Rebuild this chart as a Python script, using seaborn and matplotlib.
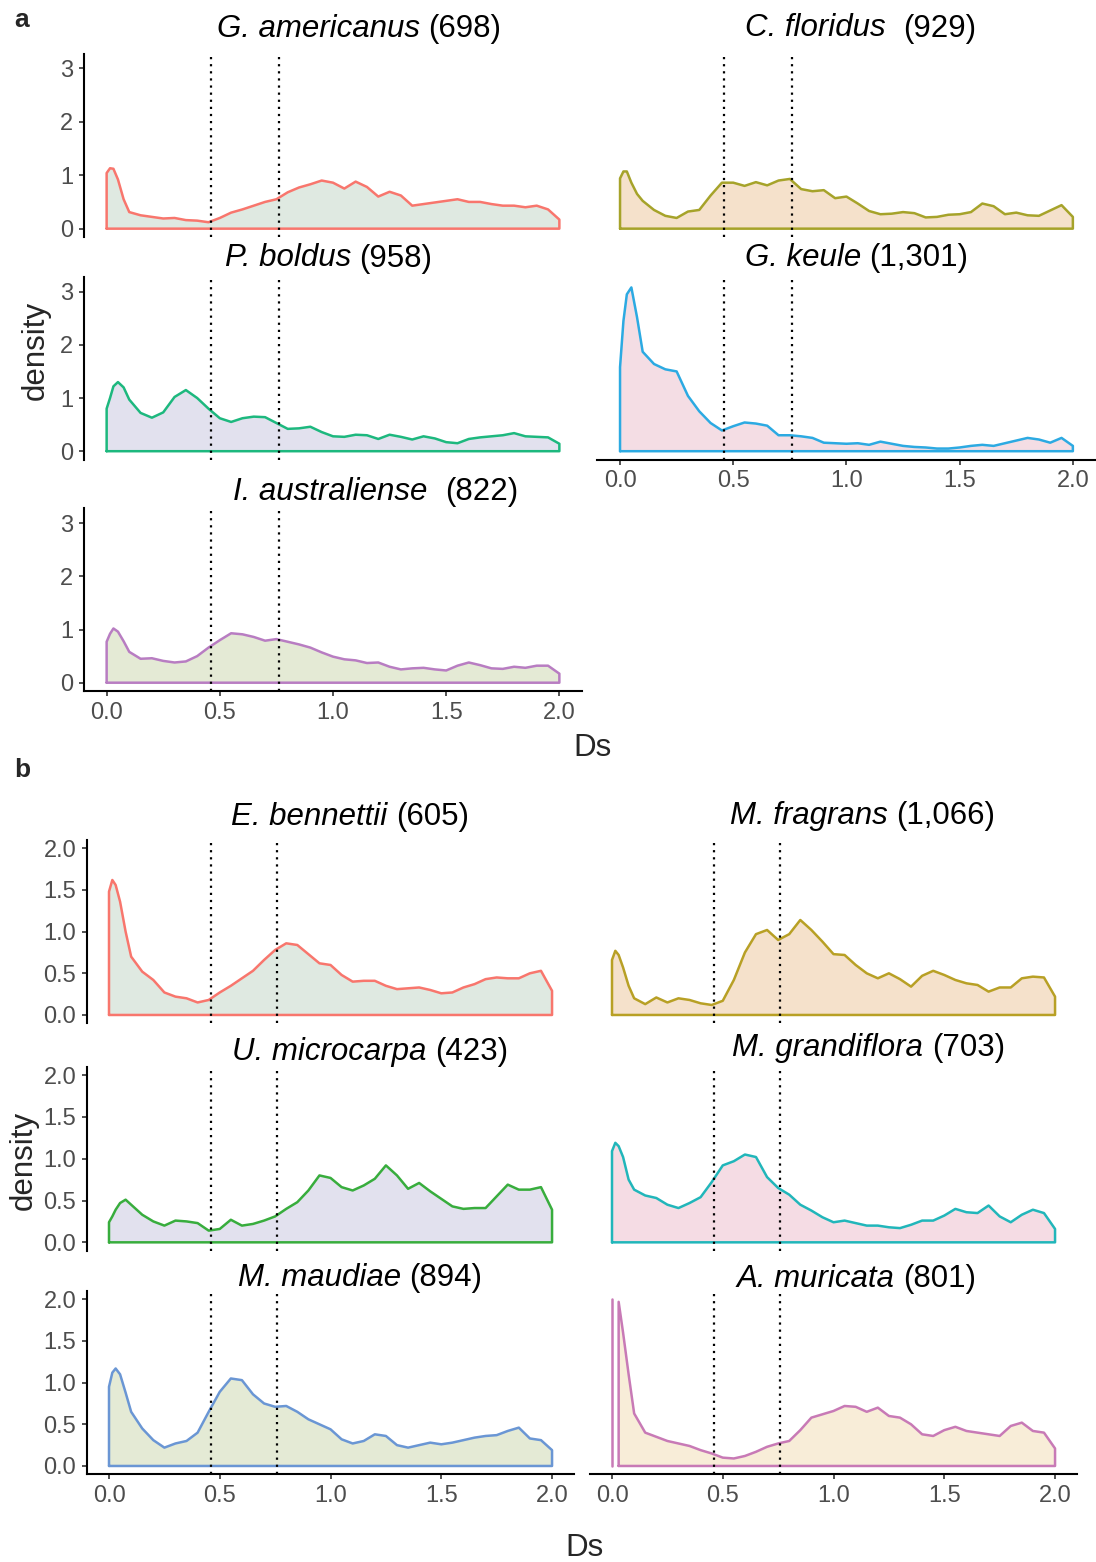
import numpy as np
import pandas as pd
import matplotlib
matplotlib.use("Agg")
import matplotlib.pyplot as plt
import seaborn as sns

# Ds positions at which every density curve is tabulated
DS_GRID = [0.0, 0.015, 0.03, 0.05, 0.075, 0.1, 0.15, 0.2, 0.25, 0.3, 0.35, 0.4,
           0.45, 0.5, 0.55, 0.6, 0.65, 0.7, 0.75, 0.8, 0.85, 0.9, 0.95, 1.0,
           1.05, 1.1, 1.15, 1.2, 1.25, 1.3, 1.35, 1.4, 1.45, 1.5, 1.55, 1.6,
           1.65, 1.7, 1.75, 1.8, 1.85, 1.9, 1.95, 2.0]

# ---- panel a: Ds densities ----
G_AMERICANUS = [1.04, 1.13, 1.12, 0.92, 0.55, 0.31, 0.25, 0.22, 0.19, 0.2, 0.16, 0.15,
                0.12, 0.2, 0.3, 0.36, 0.43, 0.5, 0.55, 0.68, 0.77, 0.83, 0.9, 0.86,
                0.75, 0.88, 0.78, 0.6, 0.69, 0.62, 0.43, 0.46, 0.49, 0.52, 0.55, 0.5,
                0.5, 0.46, 0.43, 0.43, 0.4, 0.43, 0.36, 0.17]
C_FLORIDUS = [0.94, 1.07, 1.07, 0.86, 0.65, 0.52, 0.35, 0.24, 0.2, 0.32, 0.35, 0.62,
              0.86, 0.86, 0.8, 0.87, 0.81, 0.9, 0.93, 0.74, 0.7, 0.72, 0.57, 0.6,
              0.47, 0.33, 0.27, 0.28, 0.31, 0.29, 0.21, 0.22, 0.26, 0.27, 0.31, 0.47,
              0.42, 0.27, 0.3, 0.25, 0.24, 0.34, 0.44, 0.22]
P_BOLDUS = [0.8, 1.0, 1.22, 1.3, 1.2, 0.97, 0.72, 0.63, 0.73, 1.02, 1.15, 1.0,
            0.8, 0.62, 0.55, 0.62, 0.65, 0.64, 0.53, 0.42, 0.43, 0.46, 0.36, 0.28,
            0.27, 0.31, 0.3, 0.23, 0.31, 0.27, 0.22, 0.28, 0.24, 0.17, 0.15, 0.23,
            0.26, 0.28, 0.3, 0.34, 0.28, 0.27, 0.26, 0.14]
G_KEULE = [1.58, 2.45, 2.95, 3.08, 2.52, 1.87, 1.64, 1.54, 1.5, 1.04, 0.75, 0.53,
           0.39, 0.47, 0.54, 0.52, 0.48, 0.3, 0.3, 0.28, 0.25, 0.16, 0.15, 0.14,
           0.15, 0.12, 0.18, 0.14, 0.1, 0.08, 0.07, 0.05, 0.05, 0.07, 0.1, 0.12,
           0.1, 0.15, 0.2, 0.25, 0.22, 0.16, 0.25, 0.1]
I_AUSTRALIENSE = [0.77, 0.92, 1.02, 0.96, 0.78, 0.58, 0.45, 0.46, 0.41, 0.38, 0.4, 0.5,
                  0.66, 0.8, 0.93, 0.91, 0.86, 0.79, 0.82, 0.77, 0.72, 0.66, 0.57, 0.49,
                  0.44, 0.42, 0.37, 0.38, 0.3, 0.25, 0.27, 0.28, 0.25, 0.23, 0.32, 0.38,
                  0.33, 0.27, 0.26, 0.3, 0.28, 0.32, 0.32, 0.17]

# ---- panel b: Ds densities ----
E_BENNETTII = [1.48, 1.62, 1.56, 1.36, 1.0, 0.7, 0.52, 0.42, 0.27, 0.22, 0.2, 0.15,
               0.18, 0.27, 0.35, 0.44, 0.53, 0.66, 0.78, 0.86, 0.84, 0.73, 0.62, 0.6,
               0.48, 0.4, 0.41, 0.41, 0.35, 0.31, 0.32, 0.33, 0.3, 0.26, 0.27, 0.33,
               0.37, 0.43, 0.45, 0.44, 0.44, 0.5, 0.53, 0.29]
M_FRAGRANS = [0.66, 0.77, 0.72, 0.57, 0.35, 0.2, 0.13, 0.21, 0.15, 0.2, 0.18, 0.14,
              0.12, 0.17, 0.42, 0.75, 0.97, 1.02, 0.9, 0.97, 1.14, 1.02, 0.88, 0.73,
              0.72, 0.6, 0.5, 0.44, 0.5, 0.43, 0.34, 0.47, 0.53, 0.48, 0.42, 0.38,
              0.36, 0.28, 0.33, 0.33, 0.44, 0.46, 0.45, 0.22]
U_MICROCARPA = [0.24, 0.31, 0.39, 0.47, 0.51, 0.45, 0.33, 0.25, 0.2, 0.26, 0.25, 0.23,
                0.14, 0.16, 0.27, 0.2, 0.22, 0.26, 0.31, 0.4, 0.48, 0.62, 0.8, 0.77,
                0.66, 0.62, 0.68, 0.76, 0.92, 0.8, 0.64, 0.71, 0.61, 0.52, 0.43, 0.4,
                0.41, 0.41, 0.55, 0.69, 0.63, 0.63, 0.66, 0.39]
M_GRANDIFLORA = [1.09, 1.19, 1.15, 1.02, 0.75, 0.63, 0.56, 0.53, 0.45, 0.41, 0.47, 0.54,
                 0.72, 0.92, 0.97, 1.05, 1.02, 0.78, 0.65, 0.57, 0.45, 0.38, 0.3, 0.24,
                 0.26, 0.23, 0.2, 0.2, 0.18, 0.17, 0.21, 0.26, 0.26, 0.32, 0.4, 0.36,
                 0.35, 0.44, 0.31, 0.24, 0.33, 0.39, 0.35, 0.16]
M_MAUDIAE = [0.95, 1.12, 1.17, 1.1, 0.88, 0.65, 0.45, 0.31, 0.22, 0.27, 0.3, 0.4,
             0.65, 0.89, 1.05, 1.03, 0.86, 0.75, 0.71, 0.72, 0.65, 0.56, 0.5, 0.44,
             0.32, 0.27, 0.3, 0.38, 0.36, 0.25, 0.22, 0.25, 0.28, 0.26, 0.28, 0.31,
             0.34, 0.36, 0.37, 0.42, 0.46, 0.33, 0.31, 0.19]
A_MURICATA = [2.25, 2.6, 1.97, 1.6, 1.1, 0.63, 0.4, 0.35, 0.3, 0.27, 0.24, 0.19,
              0.15, 0.1, 0.09, 0.12, 0.17, 0.23, 0.27, 0.3, 0.43, 0.58, 0.62, 0.66,
              0.72, 0.71, 0.65, 0.7, 0.6, 0.58, 0.5, 0.38, 0.36, 0.43, 0.47, 0.42,
              0.4, 0.38, 0.36, 0.48, 0.52, 0.42, 0.4, 0.21]

# species names, gene-pair counts and the number of spaces printed between them
SPECIES_A = ["G. americanus", "C. floridus", "P. boldus", "G. keule", "I. australiense"]
COUNTS_A = ["698", "929", "958", "1,301", "822"]
GAPS_A = [1, 2, 1, 1, 2]
SPECIES_B = ["E. bennettii", "M. fragrans", "U. microcarpa", "M. grandiflora",
             "M. maudiae", "A. muricata"]
COUNTS_B = ["605", "1,066", "423", "703", "894", "801"]
GAPS_B = [1, 1, 1, 1, 1, 1]

# dotted reference lines on the Ds axis
DS_MARKS = [0.46, 0.76]

X_TICKS = [0.0, 0.5, 1.0, 1.5, 2.0]
Y_TICKS_A = [0, 1, 2, 3]
Y_TICKS_B = [0.0, 0.5, 1.0, 1.5, 2.0]

LINE_A = ["#F8766D", "#A6A32A", "#1DB87E", "#2CAAE2", "#B87DC2"]
FILL_A = ["#DFE9E1", "#F5E1CB", "#E2E1EE", "#F4DDE4", "#E4EAD5"]
LINE_B = ["#F8766D", "#B8A025", "#38AD3D", "#21B6BA", "#6A96D4", "#C87AB6"]
FILL_B = ["#DFE9E1", "#F5E1CB", "#E2E1EE", "#F5DCE4", "#E4EAD5", "#F8EDD8"]

sns.set_style("ticks")
plt.rcParams["font.family"] = ["Liberation Sans", "DejaVu Sans"]

W, H = 1096, 1562
fig = plt.figure(figsize=(W / 100, H / 100), dpi=100)
fig.patch.set_facecolor("white")
renderer = fig.canvas.get_renderer()

TICK_GREY = "#4D4D4D"
TITLE_SIZE = 22.5
TICK_SIZE = 17
CURVE_LW = 1.8


def px_axes(left, top, right, bottom):
    return fig.add_axes([left / W, 1 - bottom / H, (right - left) / W, (bottom - top) / H])


def fig_text(x, y, s, **kw):
    return fig.text(x / W, 1 - y / H, s, **kw)


def species_title(cx, y, name, n_spaces, count):
    """Italic species name followed by an upright count, centred on cx."""
    t1 = fig_text(0, y, name, style="italic", fontsize=TITLE_SIZE,
                  ha="left", va="baseline", color="black")
    t2 = fig_text(0, y, "(" + count + ")", fontsize=TITLE_SIZE,
                  ha="left", va="baseline", color="black")
    w1 = t1.get_window_extent(renderer).width
    w2 = t2.get_window_extent(renderer).width
    space = 0.278 * TITLE_SIZE * 100 / 72 * n_spaces
    x0 = cx - (w1 + space + w2) / 2
    t1.set_x(x0 / W)
    t2.set_x((x0 + w1 + space) / W)


def draw_density(ax, dens, line_color, fill_color, cap=None):
    x = np.asarray(DS_GRID, float)
    y = np.asarray(dens, float)
    keep = np.ones(len(y), bool) if cap is None else (y <= cap)
    idx = np.flatnonzero(keep)
    runs = np.split(idx, np.flatnonzero(np.diff(idx) > 1) + 1)
    if cap is not None and not keep[0]:
        # values beyond the scale limit are dropped; only the left edge survives
        edge = pd.DataFrame({"Ds": [x[0], x[0]], "density": [0.0, cap]})
        sns.lineplot(data=edge, x="Ds", y="density", sort=False, estimator=None,
                     color=line_color, lw=CURVE_LW, ax=ax, zorder=3)
    for r in runs:
        xs, ys = x[r], y[r]
        ax.fill_between(xs, 0, ys, color=fill_color, lw=0, zorder=1)
        outline = pd.DataFrame({
            "Ds": np.r_[xs[0], xs, xs[-1], xs[0]],
            "density": np.r_[0.0, ys, 0.0, 0.0],
        })
        sns.lineplot(data=outline, x="Ds", y="density", sort=False, estimator=None,
                     color=line_color, lw=CURVE_LW, ax=ax, zorder=3,
                     solid_joinstyle="round", solid_capstyle="round")
    for m in DS_MARKS:
        ax.axvline(m, color="black", lw=1.6, ls=(0, (1, 2.2)), zorder=4)


def style_axes(ax, ylim, yticks, show_y, show_x):
    ax.set_xlim(-0.1, 2.1)
    ax.set_ylim(*ylim)
    ax.set_xticks(X_TICKS)
    ax.set_yticks(yticks)
    ax.set(xlabel="", ylabel="")
    ax.set_facecolor("none")
    for side in ("top", "right"):
        ax.spines[side].set_visible(False)
    ax.spines["left"].set_visible(show_y)
    ax.spines["bottom"].set_visible(show_x)
    for side in ("left", "bottom"):
        ax.spines[side].set_linewidth(1.5)
        ax.spines[side].set_color("black")
    ax.tick_params(axis="both", labelsize=TICK_SIZE, labelcolor=TICK_GREY,
                   color="#333333", length=3.6, width=1.2, pad=4)
    ax.tick_params(axis="y", left=show_y, labelleft=show_y)
    ax.tick_params(axis="x", bottom=show_x, labelbottom=show_x)


# ---------------- panel a ----------------
dens_a = [G_AMERICANUS, C_FLORIDUS, P_BOLDUS, G_KEULE, I_AUSTRALIENSE]
boxes_a = [(84, 53.5, 582, 237), (597.4, 53.5, 1095.5, 237),
           (84, 277, 582, 459.5), (597.4, 277, 1095.5, 459.5),
           (84, 508.5, 582, 691)]
title_pos_a = [(359, 37), (861, 36.5), (328.5, 266.5), (856.5, 266), (375.5, 500)]
show_y_a = [True, False, True, False, True]
show_x_a = [False, False, False, True, True]

for i in range(5):
    ax = px_axes(*boxes_a[i])
    draw_density(ax, dens_a[i], LINE_A[i], FILL_A[i])
    style_axes(ax, (-0.156, 3.276), Y_TICKS_A, show_y_a[i], show_x_a[i])
    species_title(*title_pos_a[i], SPECIES_A[i], GAPS_A[i], COUNTS_A[i])

fig_text(22, 20, "a", ha="center", va="center", fontsize=19, fontweight="bold")
fig_text(36, 350, "density", ha="center", va="center", rotation=90, fontsize=TITLE_SIZE)
fig_text(592, 748, "Ds", ha="center", va="center", fontsize=TITLE_SIZE)

# ---------------- panel b ----------------
dens_b = [E_BENNETTII, M_FRAGRANS, U_MICROCARPA, M_GRANDIFLORA, M_MAUDIAE, A_MURICATA]
boxes_b = [(86.85, 840, 574.2, 1023.3), (589.85, 840, 1077.2, 1023.3),
           (86.85, 1066.7, 574.2, 1250.7), (589.85, 1066.7, 1077.2, 1250.7),
           (86.85, 1291, 574.2, 1474.3), (589.85, 1291, 1077.2, 1474.3)]
title_pos_b = [(350, 825), (862.5, 824), (370, 1060), (868.5, 1056), (360, 1286),
               (856.5, 1287)]
show_y_b = [True, False, True, False, True, False]
show_x_b = [False, False, False, False, True, True]

for i in range(6):
    ax = px_axes(*boxes_b[i])
    draw_density(ax, dens_b[i], LINE_B[i], FILL_B[i], cap=2.0)
    style_axes(ax, (-0.1, 2.1), Y_TICKS_B, show_y_b[i], show_x_b[i])
    species_title(*title_pos_b[i], SPECIES_B[i], GAPS_B[i], COUNTS_B[i])

fig_text(22, 770, "b", ha="center", va="center", fontsize=19, fontweight="bold")
fig_text(24, 1160, "density", ha="center", va="center", rotation=90, fontsize=TITLE_SIZE)
fig_text(584, 1548, "Ds", ha="center", va="center", fontsize=TITLE_SIZE)

fig.savefig("out.png", dpi=100, facecolor="white")
